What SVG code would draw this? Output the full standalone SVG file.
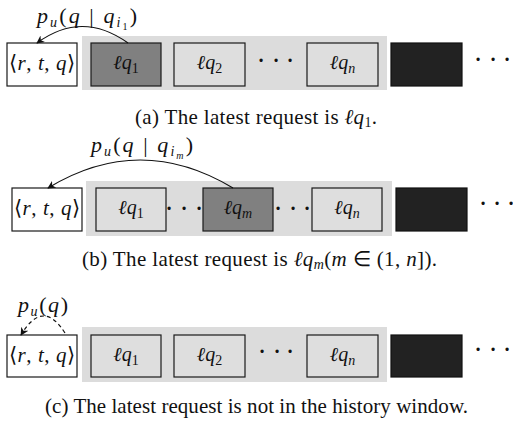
<svg xmlns="http://www.w3.org/2000/svg" width="513" height="427" viewBox="0 0 513 427">
<style>
.bg{fill:#dcdcdc}
.box{fill:#dedede;stroke:#1a1a1a;stroke-width:1.2}
.cur{fill:#808080;stroke:#1a1a1a;stroke-width:1.2}
.blk{fill:#222;stroke:#111;stroke-width:1.2}
.tup{fill:#fff;stroke:#1a1a1a;stroke-width:1.2}
text{fill:#111}
.m{font-size:20px;text-anchor:middle}
.t{font-size:21px;text-anchor:middle}
.lab{font-size:22px}
.i{font-style:italic}
.s{font-size:14px}
.ss{font-size:10px}
.cap{font-size:21px;text-anchor:middle}
.dots{font-size:20px;text-anchor:middle;font-weight:bold}
.arr{fill:none;stroke:#111;stroke-width:1.2}
.dash{stroke-dasharray:4 3}
</style>
<defs>
<marker id="ah" viewBox="0 0 10 10" refX="9" refY="5" markerWidth="8" markerHeight="8" markerUnits="userSpaceOnUse" orient="auto">
<path d="M0,0 L10,5 L0,10 L3,5 Z" fill="#111"/>
</marker>
</defs>

<!-- Panel (a) -->
<g id="panel-a">
<rect class="bg" x="82" y="36" width="305" height="54"/>
<g id="a-tuple"><rect class="tup" x="7" y="43" width="70" height="43"/><text font-family="Liberation Serif, serif" class="t" x="42" y="70" textLength="66" lengthAdjust="spacing">⟨<tspan class="i">r</tspan>, <tspan class="i">t</tspan>, <tspan class="i">q</tspan>⟩</text></g>
<g id="a-lq1"><rect class="cur" x="91" y="43" width="70" height="43"/><text font-family="Liberation Serif, serif" class="m" x="126" y="69"><tspan class="i">ℓq</tspan><tspan class="s" dy="4">1</tspan></text></g>
<g id="a-lq2"><rect class="box" x="174" y="43" width="71" height="43"/><text font-family="Liberation Serif, serif" class="m" x="209.5" y="69"><tspan class="i">ℓq</tspan><tspan class="s" dy="4">2</tspan></text></g>
<g id="a-dots1"><text font-family="Liberation Serif, serif" class="dots" x="261 276 290" y="67">···</text></g>
<g id="a-lqn"><rect class="box" x="307" y="43" width="71" height="43"/><text font-family="Liberation Serif, serif" class="m" x="342.5" y="69"><tspan class="i">ℓq</tspan><tspan class="s i" dy="4">n</tspan></text></g>
<g id="a-black"><rect class="blk" x="391" y="43" width="71" height="43"/></g>
<g id="a-dots2"><text font-family="Liberation Serif, serif" class="dots" x="478 493 507" y="66">···</text></g>
<text id="a-label" font-family="Liberation Serif, serif" class="lab" x="37" y="23" textLength="100" lengthAdjust="spacing"><tspan class="i">p</tspan><tspan class="s i" dy="4">u</tspan><tspan dy="-4">(</tspan><tspan class="i">q</tspan> | <tspan class="i">q</tspan><tspan class="s i" dy="4">i</tspan><tspan class="ss" dy="3">1</tspan><tspan dy="-7">)</tspan></text>
<text id="a-cap" font-family="Liberation Serif, serif" class="cap" x="256" y="124" textLength="242" lengthAdjust="spacing">(a) The latest request is <tspan class="i">ℓq</tspan><tspan class="s" dy="3">1</tspan><tspan dy="-3">.</tspan></text>
</g>

<!-- Panel (b) -->
<g id="panel-b">
<rect class="bg" x="86" y="181" width="306" height="55"/>
<g id="b-tuple"><rect class="tup" x="12" y="188" width="70" height="43"/><text font-family="Liberation Serif, serif" class="t" x="47" y="215" textLength="66" lengthAdjust="spacing">⟨<tspan class="i">r</tspan>, <tspan class="i">t</tspan>, <tspan class="i">q</tspan>⟩</text></g>
<g id="b-lq1"><rect class="box" x="96" y="188" width="70" height="43"/><text font-family="Liberation Serif, serif" class="m" x="131" y="214"><tspan class="i">ℓq</tspan><tspan class="s" dy="4">1</tspan></text></g>
<g id="b-dots1"><text font-family="Liberation Serif, serif" class="dots" x="169 184 199" y="215">···</text></g>
<g id="b-lqm"><rect class="cur" x="203" y="188" width="70" height="43"/><text font-family="Liberation Serif, serif" class="m" x="238" y="214"><tspan class="i">ℓq</tspan><tspan class="s i" dy="4">m</tspan></text></g>
<g id="b-dots2"><text font-family="Liberation Serif, serif" class="dots" x="278 293 307" y="215">···</text></g>
<g id="b-lqn"><rect class="box" x="312" y="188" width="70" height="43"/><text font-family="Liberation Serif, serif" class="m" x="347" y="214"><tspan class="i">ℓq</tspan><tspan class="s i" dy="4">n</tspan></text></g>
<g id="b-black"><rect class="blk" x="396" y="188" width="71" height="43"/></g>
<g id="b-dots3"><text font-family="Liberation Serif, serif" class="dots" x="483 497 511" y="210">···</text></g>
<text id="b-label" font-family="Liberation Serif, serif" class="lab" x="91" y="152" textLength="102" lengthAdjust="spacing"><tspan class="i">p</tspan><tspan class="s i" dy="4">u</tspan><tspan dy="-4">(</tspan><tspan class="i">q</tspan> | <tspan class="i">q</tspan><tspan class="s i" dy="4">i</tspan><tspan class="ss i" dy="3">m</tspan><tspan dy="-7">)</tspan></text>
<text id="b-cap" font-family="Liberation Serif, serif" class="cap" x="259.5" y="266" textLength="355" lengthAdjust="spacing">(b) The latest request is <tspan class="i">ℓq</tspan><tspan class="s i" dy="3">m</tspan><tspan dy="-3">(</tspan><tspan class="i">m</tspan> ∈ (1, <tspan class="i">n</tspan>]).</text>
</g>

<!-- Panel (c) -->
<g id="panel-c">
<rect class="bg" x="82" y="327" width="305" height="55"/>
<g id="c-tuple"><rect class="tup" x="7" y="335" width="70" height="42"/><text font-family="Liberation Serif, serif" class="t" x="42" y="362" textLength="66" lengthAdjust="spacing">⟨<tspan class="i">r</tspan>, <tspan class="i">t</tspan>, <tspan class="i">q</tspan>⟩</text></g>
<g id="c-lq1"><rect class="box" x="91" y="335" width="70" height="42"/><text font-family="Liberation Serif, serif" class="m" x="126" y="361"><tspan class="i">ℓq</tspan><tspan class="s" dy="4">1</tspan></text></g>
<g id="c-lq2"><rect class="box" x="174" y="335" width="71" height="42"/><text font-family="Liberation Serif, serif" class="m" x="209.5" y="361"><tspan class="i">ℓq</tspan><tspan class="s" dy="4">2</tspan></text></g>
<g id="c-dots1"><text font-family="Liberation Serif, serif" class="dots" x="262 277 290" y="358">···</text></g>
<g id="c-lqn"><rect class="box" x="307" y="335" width="71" height="42"/><text font-family="Liberation Serif, serif" class="m" x="342.5" y="361"><tspan class="i">ℓq</tspan><tspan class="s i" dy="4">n</tspan></text></g>
<g id="c-black"><rect class="blk" x="391" y="335" width="71" height="42"/></g>
<g id="c-dots2"><text font-family="Liberation Serif, serif" class="dots" x="478 493 507" y="356">···</text></g>
<text id="c-label" font-family="Liberation Serif, serif" class="lab" x="18" y="312" textLength="50" lengthAdjust="spacing"><tspan class="i">p</tspan><tspan class="s i" dy="4">u</tspan><tspan dy="-4">(</tspan><tspan class="i">q</tspan>)</text>
<text id="c-cap" font-family="Liberation Serif, serif" class="cap" x="256.5" y="413" textLength="423" lengthAdjust="spacing">(c) The latest request is not in the history window.</text>
</g>

<g id="connectors">
<path class="arr" d="M128,43 Q82,10 37,43" marker-end="url(#ah)"/>
<path class="arr" d="M233,188 Q140,132 48,188" marker-end="url(#ah)"/>
<path class="arr dash" d="M65,333 Q43,298 21,335" marker-end="url(#ah)"/>
</g>
</svg>
